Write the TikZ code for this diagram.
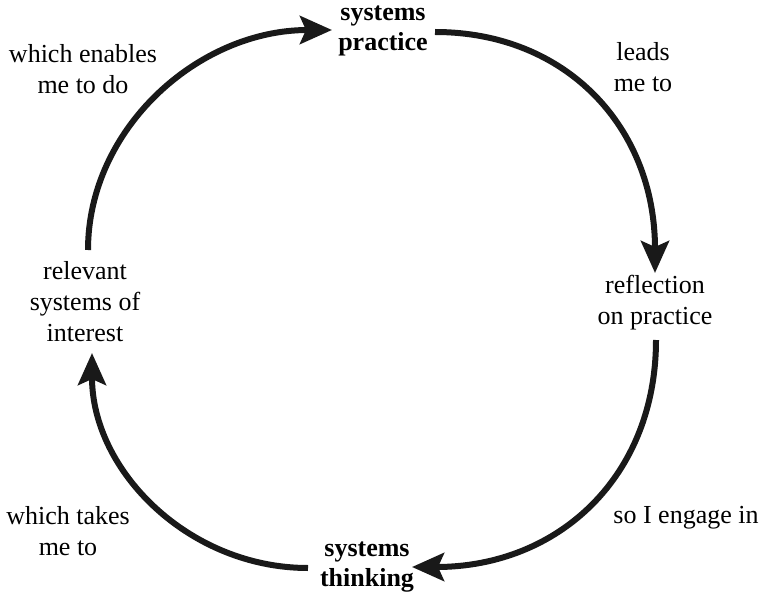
\documentclass[tikz,border=0pt]{standalone}
\usepackage{fontspec}
\setmainfont{Liberation Serif}
\usetikzlibrary{arrows.meta}
\tikzset{
  lbl/.style={align=center, inner sep=0pt, font=\fontsize{26}{31}\selectfont},
  key/.style={lbl, font=\fontsize{26}{30}\selectfont\bfseries},
  flow/.style={line width=6pt, draw=black!90, -{Stealth[length=32pt,width=28pt,inset=6pt]}}
}
\begin{document}
\begin{tikzpicture}[x=1pt,y=-1pt]
\useasboundingbox (0,0) rectangle (763,599);
\node[key] (sp) at (383,31) {systems\\practice};
\node[key] (st) at (367,567) {systems\\thinking};
\node[lbl] (rel) at (85,302) {relevant\\systems of\\interest};
\node[lbl] (ref) at (655,303) {reflection\\on practice};
\node[lbl] (l1) at (83,69) {which enables\\me to do};
\node[lbl] (l2) at (643,67) {leads\\me to};
\node[lbl] (l3) at (686,518) {so I engage in};
\node[lbl] (l4) at (68,531) {which takes\\me to};
\coordinate (s1) at (88,250);  \coordinate (e1) at (332,30);
\coordinate (s2) at (435,32);  \coordinate (e2) at (655,273);
\coordinate (s3) at (656,340); \coordinate (e3) at (412,567);
\coordinate (s4) at (308,568); \coordinate (e4) at (92,353);
\draw[flow] (s1) .. controls (88,129) and (198,30) .. (e1);
\draw[flow] (s2) .. controls (567,32) and (655,128) .. (e2);
\draw[flow] (s3) .. controls (656,476) and (559,567) .. (e3);
\draw[flow] (s4) .. controls (189,568) and (92,471) .. (e4);
\end{tikzpicture}
\end{document}
